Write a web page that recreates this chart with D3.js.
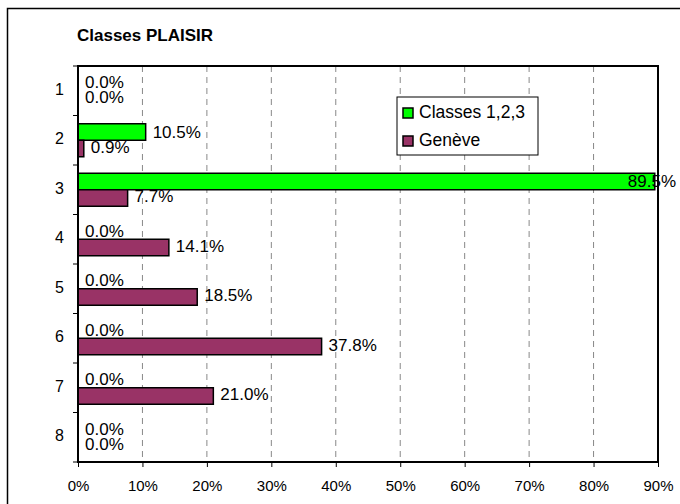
<!DOCTYPE html>
<html>
<head>
<meta charset="utf-8">
<script src="https://cdn.jsdelivr.net/npm/d3@7"></script>
<style>
  body { margin: 0; background: #fff; }
  svg { font-family: "Liberation Sans", Arial, sans-serif; }
</style>
</head>
<body>
<div id="chart"></div>
<script>
// data
const categories = ["1", "2", "3", "4", "5", "6", "7", "8"];
const seriesNames = ["Classes 1,2,3", "Genève"];
const classesValues = [0.0, 10.5, 89.5, 0.0, 0.0, 0.0, 0.0, 0.0];
const genevaValues = [0.0, 0.9, 7.7, 14.1, 18.5, 37.8, 21.0, 0.0];
const xTicks = [0, 10, 20, 30, 40, 50, 60, 70, 80, 90];
const colors = ["#00ff00", "#993366"];

const width = 680, height = 504;
const plot = { left: 78, right: 658, top: 66, bottom: 462 };

const svg = d3.select("#chart").append("svg")
    .attr("width", width).attr("height", height);

// outer frame (only top/left visible)
svg.append("rect")
    .attr("x", 7.5).attr("y", 8.5)
    .attr("width", 800).attr("height", 600)
    .attr("fill", "#fff").attr("stroke", "#000").attr("stroke-width", 1.5);

svg.append("text")
    .attr("x", 77).attr("y", 41)
    .attr("font-size", 17).attr("font-weight", "bold")
    .text("Classes PLAISIR");

const x = d3.scaleLinear().domain([0, 90]).range([plot.left, plot.right]);
const y = d3.scaleBand().domain(categories).range([plot.top, plot.bottom]);
const inner = d3.scaleBand().domain([0, 1]).range([0, y.bandwidth()]).paddingOuter(0.5).paddingInner(0);

// gridlines
svg.append("g")
    .selectAll("line")
    .data(xTicks.filter(t => t > 0 && t < 90))
    .join("line")
    .attr("x1", d => x(d)).attr("x2", d => x(d))
    .attr("y1", plot.top).attr("y2", plot.bottom)
    .attr("stroke", "#888").attr("stroke-dasharray", "6,5");

// x axis
const xAxis = svg.append("g")
    .attr("transform", `translate(0,${plot.bottom})`)
    .call(d3.axisBottom(x).tickValues(xTicks).tickFormat(d => d + "%").tickSize(5).tickSizeOuter(0));
xAxis.select(".domain").remove();
xAxis.selectAll("line").attr("stroke", "#000");
xAxis.selectAll("text").attr("font-size", 15).attr("font-family", "Liberation Sans, Arial, sans-serif")
    .attr("dy", "1.4em").attr("fill", "#000");

// y axis: ticks at band boundaries
const boundaries = categories.map(c => y(c)).concat([plot.bottom]);
svg.append("g").selectAll("line")
    .data(boundaries)
    .join("line")
    .attr("x1", plot.left - 5).attr("x2", plot.left)
    .attr("y1", d => d).attr("y2", d => d)
    .attr("stroke", "#000");
svg.append("g").selectAll("text")
    .data(categories)
    .join("text")
    .attr("x", 64).attr("y", d => y(d) + y.bandwidth() / 2)
    .attr("text-anchor", "end").attr("dominant-baseline", "middle")
    .attr("font-size", 16)
    .text(d => d);

// bars
const series = [classesValues, genevaValues];
series.forEach((vals, si) => {
    const g = svg.append("g");
    g.selectAll("rect")
        .data(vals)
        .join("rect")
        .attr("x", x(0))
        .attr("y", (d, i) => y(categories[i]) + inner(si))
        .attr("width", d => x(d) - x(0))
        .attr("height", inner.bandwidth())
        .attr("fill", colors[si])
        .attr("stroke", "#000").attr("stroke-width", 1.5);
    g.selectAll("text")
        .data(vals)
        .join("text")
        .attr("x", d => x(d) + 7)
        .attr("y", (d, i) => y(categories[i]) + inner(si) + inner.bandwidth() / 2 + (si === 0 ? 1.5 : 0))
        .attr("dominant-baseline", "middle")
        .attr("font-size", 17)
        .text(d => d.toFixed(1) + "%")
        .each(function() {
            const w = this.getComputedTextLength();
            const cur = +d3.select(this).attr("x");
            if (cur + w > 676) d3.select(this).attr("x", 676 - w);
        });
});

// plot frame
svg.append("rect")
    .attr("x", plot.left).attr("y", plot.top)
    .attr("width", plot.right - plot.left).attr("height", plot.bottom - plot.top)
    .attr("fill", "none").attr("stroke", "#000").attr("stroke-width", 2);

// legend
const legend = svg.append("g").attr("transform", "translate(397,97)");
legend.append("rect")
    .attr("width", 141).attr("height", 58)
    .attr("fill", "#fff").attr("stroke", "#000");
seriesNames.forEach((name, i) => {
    const row = legend.append("g").attr("transform", `translate(6,${16 + i * 28})`);
    row.append("rect")
        .attr("x", 0).attr("y", -5).attr("width", 10).attr("height", 10)
        .attr("fill", colors[i]).attr("stroke", "#000").attr("stroke-width", 1.5);
    row.append("text")
        .attr("x", 16).attr("y", 0)
        .attr("dominant-baseline", "middle")
        .attr("font-size", 17.5)
        .text(name);
});
</script>
</body>
</html>
